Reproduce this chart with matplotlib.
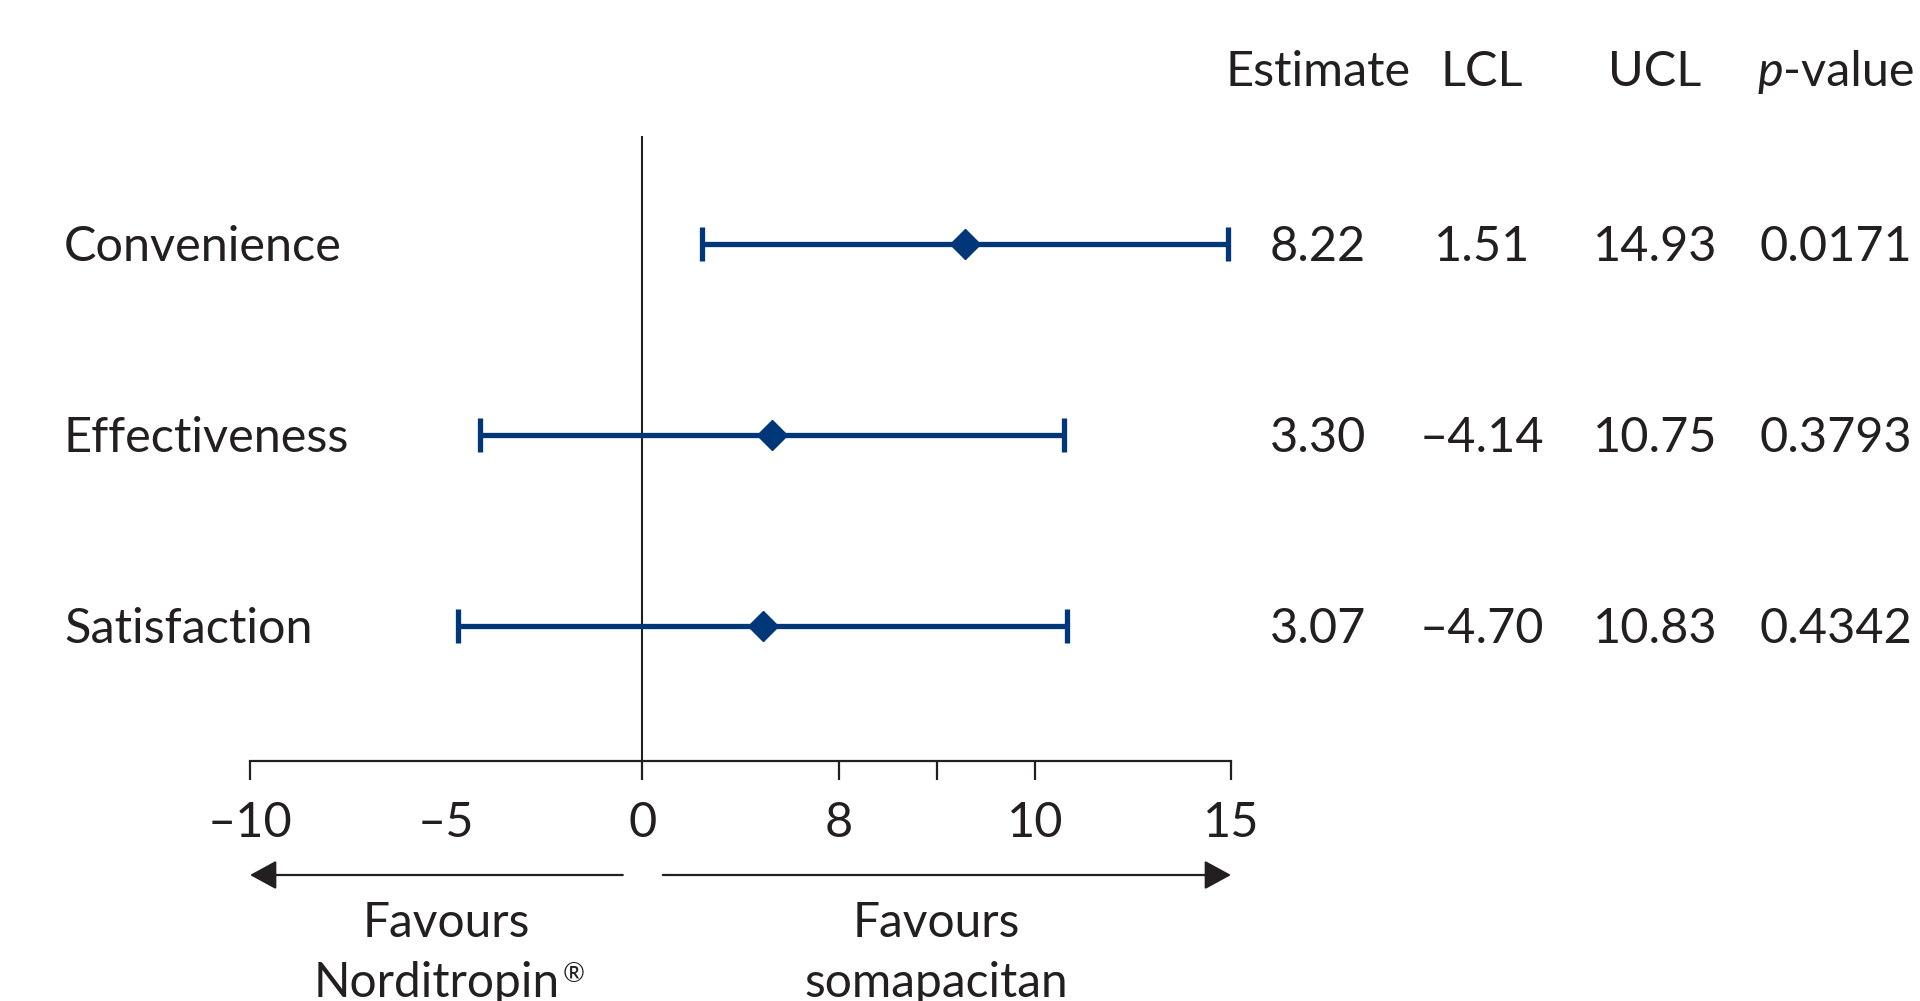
import matplotlib
matplotlib.use('Agg')
import matplotlib.pyplot as plt
from matplotlib.transforms import blended_transform_factory, offset_copy

# ---------------- data ----------------
categories = ['Convenience', 'Effectiveness', 'Satisfaction']
estimates = [8.22, 3.30, 3.07]
lcl = [1.51, -4.14, -4.70]
ucl = [14.93, 10.75, 10.83]
est_labels = ['8.22', '3.30', '3.07']
lcl_labels = ['1.51', '–4.14', '–4.70']
ucl_labels = ['14.93', '10.75', '10.83']
p_labels = ['0.0171', '0.3793', '0.4342']
col_headers = ['Estimate', 'LCL', 'UCL']
tick_positions = [-10, -5, 0, 5, 10, 15]
tick_labels = ['–10', '–5', '0', '8', '10', '15']
minor_ticks = [7.5]
favour_left = ['Favours', 'Norditropin']
favour_right = ['Favours', 'somapacitan']
reg_mark = '®'

# ---------------- style ----------------
plt.rcParams['font.family'] = ['Lato', 'DejaVu Sans']
FS = 35
FS_FAV = 34.5
TXT = '#231F20'
BLUE = '#003778'
W, H = 1920, 1001

fig = plt.figure(figsize=(W / 100, H / 100), dpi=100)
ax = fig.add_axes([250 / W, 1 - 761 / H, (1231 - 250) / W, (761 - 136) / H])
ypos = [3, 2, 1]
ax.set_xlim(-10, 15)
ax.set_ylim(0.29, 3.568)

# error bars
for y, e, lo, hi in zip(ypos, estimates, lcl, ucl):
    ax.errorbar([e], [y], xerr=[[e - lo], [hi - e]], fmt='D', color=BLUE,
                ms=15, elinewidth=3.8, capsize=12.5, capthick=3.8, zorder=3)

ax.axvline(0, color=TXT, lw=1.5, zorder=2)

for s in ['left', 'top', 'right']:
    ax.spines[s].set_visible(False)
ax.spines['bottom'].set_color(TXT)
ax.spines['bottom'].set_linewidth(1.6)
ax.set_yticks([])
ax.set_xticks(tick_positions, tick_labels)
ax.set_xticks(minor_ticks, minor=True)
ax.tick_params(axis='x', which='both', direction='out', length=13.5, width=1.6,
               color=TXT, labelcolor=TXT, labelsize=FS, pad=15.5)
ax.xaxis.get_major_ticks()[1].tick1line.set_visible(False)

trans = blended_transform_factory(fig.transFigure, ax.transData)
base_off = 0.09
for y, cat in zip(ypos, categories):
    ax.text(64 / W, y - base_off, cat, transform=trans, ha='left', va='baseline',
            fontsize=FS, color=TXT)

col_x = [1318 / W, 1482 / W, 1655 / W]
p_x = 1836 / W
hy = 1 - 86 / H
for cx, hdr in zip(col_x, col_headers):
    fig.text(cx, hy, hdr, ha='center', va='baseline', fontsize=FS, color=TXT)
fig.text(1783 / W, hy, 'p', ha='right', va='baseline', fontsize=FS,
         color=TXT, style='italic')
fig.text(1783 / W, hy, '-value', ha='left', va='baseline', fontsize=FS, color=TXT)

for y, a, b, c, p in zip(ypos, est_labels, lcl_labels, ucl_labels, p_labels):
    for cx, s in zip(col_x + [p_x], [a, b, c, p]):
        ax.text(cx, y - base_off, s, transform=trans, ha='center', va='baseline',
                fontsize=FS, color=TXT)

# arrows
atrans = blended_transform_factory(ax.transData, fig.transFigure)
ay = 1 - 875 / H
astyle = '-|>,head_length=16.5,head_width=9'
ax.annotate('', xy=(-10, ay), xytext=(-0.5, ay), xycoords=atrans, textcoords=atrans,
            arrowprops=dict(arrowstyle=astyle, color=TXT, lw=1.6, shrinkA=0, shrinkB=0,
                            mutation_scale=1), annotation_clip=False)
ax.annotate('', xy=(15, ay), xytext=(0.52, ay), xycoords=atrans, textcoords=atrans,
            arrowprops=dict(arrowstyle=astyle, color=TXT, lw=1.6, shrinkA=0, shrinkB=0,
                            mutation_scale=1), annotation_clip=False)

fav_base = [1 - 937 / H, 1 - 997 / H]
for x, lines, mark in zip([-5, 7.5], [favour_left, favour_right], [reg_mark, '']):
    for i, (by, line) in enumerate(zip(fav_base, lines)):
        if i == 1 and mark:
            t = ax.text(x, by, line, transform=offset_copy(atrans, fig, x=-6.5, units='points'),
                        ha='center', va='baseline', fontsize=FS_FAV, color=TXT)
            ax.annotate(mark, xy=(1, 1), xycoords=t, xytext=(1.5, -1),
                        textcoords='offset points', ha='left', va='top',
                        fontsize=FS_FAV * 0.55, color=TXT, annotation_clip=False)
        else:
            ax.text(x, by, line, transform=atrans, ha='center', va='baseline',
                    fontsize=FS_FAV, color=TXT)

fig.savefig('out.png', dpi=100)
